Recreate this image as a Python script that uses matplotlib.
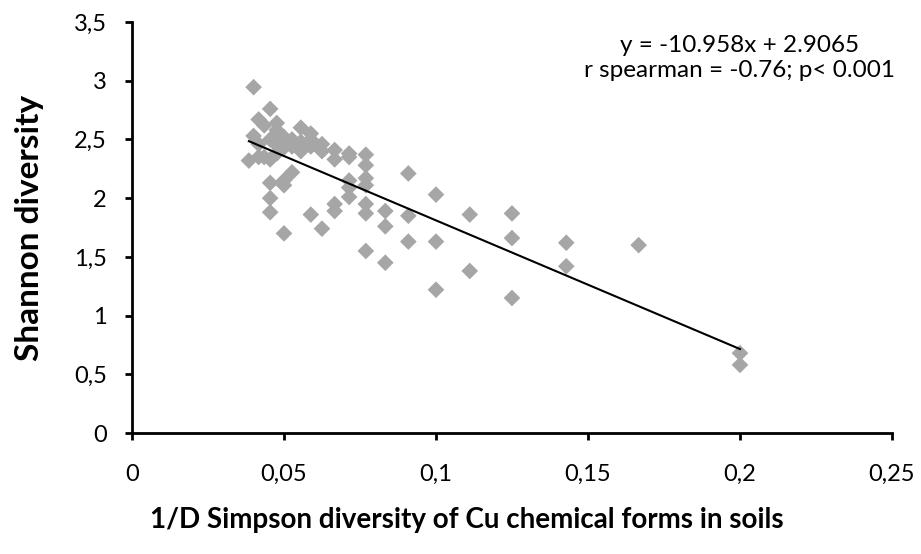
import matplotlib.pyplot as plt
import numpy as np
from matplotlib.ticker import FuncFormatter

plt.rcParams['font.family'] = ['Lato', 'DejaVu Sans']

# 1/D values are reciprocals of integers; grouped by denominator
denominators = [26, 25, 25, 24, 24, 24, 23, 23,
                22, 22, 22, 22, 22, 22,
                21, 21, 21, 21,
                20, 20, 20, 20, 20,
                19, 19, 19,
                18, 18, 18,
                17, 17, 17, 17,
                16, 16, 16,
                15, 15, 15, 15,
                14, 14, 14, 14, 14,
                13, 13, 13, 13, 13, 13, 13,
                12, 12, 12,
                11, 11, 11,
                10, 10, 10,
                9, 9,
                8, 8, 8,
                7, 7,
                6,
                5, 5]
shannon = [2.32, 2.945, 2.53, 2.67, 2.35, 2.46, 2.62, 2.35,
           2.76, 2.50, 2.33, 2.13, 2.00, 1.88,
           2.64, 2.58, 2.38, 2.45,
           2.52, 2.11, 2.15, 1.70, 2.43,
           2.50, 2.22, 2.44,
           2.60, 2.48, 2.40,
           2.55, 2.50, 2.44, 1.86,
           2.46, 2.40, 1.74,
           2.41, 2.33, 1.95, 1.89,
           2.38, 2.35, 2.15, 2.09, 2.01,
           2.37, 2.28, 2.17, 2.11, 1.95, 1.87, 1.55,
           1.89, 1.76, 1.45,
           2.21, 1.85, 1.63,
           2.03, 1.63, 1.22,
           1.86, 1.38,
           1.87, 1.66, 1.15,
           1.62, 1.42,
           1.60,
           0.68, 0.58]
simpson_inv = 1.0 / np.array(denominators, dtype=float)

slope = -10.958
intercept = 2.9065

fig = plt.figure(figsize=(9.21, 5.54), dpi=100)
ax = fig.add_axes([0.1433, 0.2184, 0.8252, 0.7419])

ax.scatter(simpson_inv, shannon, marker='D', s=72, color='#A6A6A6',
           edgecolors='none', zorder=2)

# trend line over data range
xl = np.array([simpson_inv.min(), simpson_inv.max()])
ax.plot(xl, slope * xl + intercept, color='black', lw=1.5, zorder=3)

ax.set_xlim(0, 0.25)
ax.set_ylim(0, 3.5)
ax.set_xticks(np.arange(0, 0.2501, 0.05))
ax.set_yticks(np.arange(0, 3.501, 0.5))
fmt = FuncFormatter(lambda v, p: ('%g' % round(v, 4)).replace('.', ','))
ax.xaxis.set_major_formatter(fmt)
ax.yaxis.set_major_formatter(fmt)

for s in ['top', 'right']:
    ax.spines[s].set_visible(False)
for s in ['left', 'bottom']:
    ax.spines[s].set_linewidth(2)
ax.tick_params(direction='out', length=5, width=2, labelsize=17)
ax.tick_params(axis='x', pad=17)
ax.tick_params(axis='y', pad=13)

ax.set_ylabel('Shannon diversity', fontsize=24, fontweight='bold')
ax.yaxis.set_label_coords(-0.116, 0.5)
ax.set_xlabel('1/D Simpson diversity of Cu chemical forms in soils',
              fontsize=20, fontweight='bold')
ax.xaxis.set_label_coords(0.441, -0.18)

ax.text(0.8, 0.912, 'y = -10.958x + 2.9065\nr spearman = -0.76; p< 0.001',
        transform=ax.transAxes, ha='center', va='center', fontsize=17.5,
        linespacing=1.2)

fig.savefig('out.png', dpi=100)
